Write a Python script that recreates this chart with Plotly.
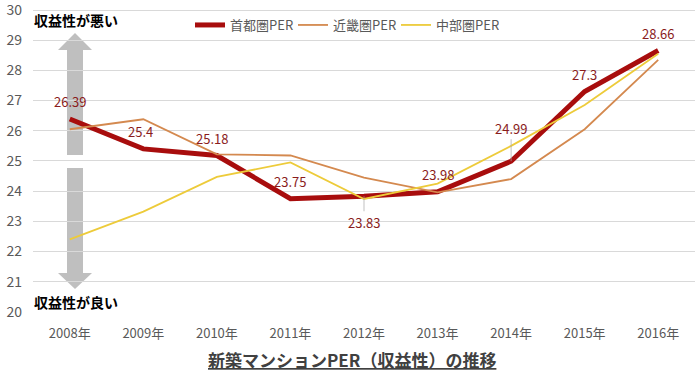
import plotly.graph_objects as go

years = ["2008年", "2009年", "2010年", "2011年", "2012年", "2013年", "2014年", "2015年", "2016年"]
shuto = [26.39, 25.4, 25.18, 23.75, 23.83, 23.98, 24.99, 27.3, 28.66]
kinki = [26.05, 26.38, 25.22, 25.18, 24.45, 23.96, 24.4, 26.05, 28.35]
chubu = [22.4, 23.32, 24.47, 24.95, 23.74, 24.25, 25.5, 26.85, 28.55]
y_ticks = [20, 21, 22, 23, 24, 25, 26, 27, 28, 29, 30]
series_names = ["首都圏PER", "近畿圏PER", "中部圏PER"]
title_text = "新築マンションPER（収益性）の推移"
top_note = "収益性が悪い"
bottom_note = "収益性が良い"

FONT = "Noto Sans CJK JP"
RED = "#A80D0D"
TAN = "#D4894F"
YEL = "#EDCB3A"
LABEL = "#8A1C1C"

W, H = 700, 374
L, R, T, B = 33, 5, 4, 62
pw, ph = W - L - R, H - T - B

def px(x):
    return (x - L) / pw

def py(y):
    return (H - B - y) / ph

fig = go.Figure()
fig.add_trace(go.Scatter(x=years, y=shuto, mode="lines", name=series_names[0],
                         line=dict(color=RED, width=5)))
fig.add_trace(go.Scatter(x=years, y=kinki, mode="lines", name=series_names[1],
                         line=dict(color=TAN, width=1.8)))
fig.add_trace(go.Scatter(x=years, y=chubu, mode="lines", name=series_names[2],
                         line=dict(color=YEL, width=1.8)))

# data labels for 首都圏
xshifts = [0, -3, -5, 0, 0, 0, 0, 0, 0]
for i, (yr, v) in enumerate(zip(years, shuto)):
    txt = f"{v:g}"
    if i == 4:
        fig.add_annotation(x=yr, y=v, text=txt, showarrow=True, arrowhead=0,
                           arrowwidth=0.7, arrowcolor="#A6A6A6", ax=0, ay=26,
                           font=dict(family=FONT, size=13, color=LABEL))
    elif i == 6:
        fig.add_annotation(x=yr, y=v, text=txt, showarrow=True, arrowhead=0,
                           arrowwidth=0.7, arrowcolor="#A6A6A6", ax=0, ay=-33,
                           font=dict(family=FONT, size=13, color=LABEL))
    else:
        fig.add_annotation(x=yr, y=v, text=txt, showarrow=False, yshift=17,
                           xshift=xshifts[i],
                           font=dict(family=FONT, size=13, color=LABEL))

# gray arrows (decoration)
cx = 75
sh = 8
hw = 17
up = (f"M {px(cx)} {py(33)} L {px(cx+hw)} {py(50)} L {px(cx+sh)} {py(50)} "
      f"L {px(cx+sh)} {py(155)} L {px(cx-sh)} {py(155)} L {px(cx-sh)} {py(50)} "
      f"L {px(cx-hw)} {py(50)} Z")
down = (f"M {px(cx)} {py(289)} L {px(cx+hw)} {py(273)} L {px(cx+sh)} {py(273)} "
        f"L {px(cx+sh)} {py(168)} L {px(cx-sh)} {py(168)} L {px(cx-sh)} {py(273)} "
        f"L {px(cx-hw)} {py(273)} Z")
for p in (up, down):
    fig.add_shape(type="path", path=p, xref="paper", yref="paper",
                  fillcolor="#BFBFBF", line=dict(width=0), layer="below")

fig.add_annotation(text=top_note, xref="paper", yref="paper", x=px(32), y=py(20),
                   xanchor="left", yanchor="middle", showarrow=False,
                   font=dict(family=FONT, size=14, color="#000000", weight="bold"))
fig.add_annotation(text=bottom_note, xref="paper", yref="paper", x=px(32), y=py(302),
                   xanchor="left", yanchor="middle", showarrow=False,
                   font=dict(family=FONT, size=14, color="#000000", weight="bold"))
fig.add_annotation(text=f"<u>{title_text}</u>", xref="paper", yref="paper",
                   x=px(352), y=py(359), xanchor="center", yanchor="middle",
                   showarrow=False,
                   font=dict(family=FONT, size=17, color="#404040", weight="bold"))

fig.update_layout(
    width=W, height=H,
    margin=dict(l=L, r=R, t=T, b=B),
    paper_bgcolor="white", plot_bgcolor="white",
    font=dict(family=FONT, size=12, color="#595959"),
    showlegend=True,
    legend=dict(orientation="h", x=px(190), xanchor="left", y=py(25),
                yanchor="middle", font=dict(family=FONT, size=13, color="#595959"),
                bgcolor="rgba(0,0,0,0)", itemwidth=30, tracegroupgap=0,
                entrywidth=58, entrywidthmode="pixels"),
    xaxis=dict(type="category", range=[-0.5, 8.5], showgrid=False, showline=False,
               zeroline=False, ticks="", ticklabelstandoff=12,
               tickfont=dict(size=13, color="#595959")),
    yaxis=dict(range=[19.995, 30.2], tickmode="array", tickvals=y_ticks,
               ticktext=[str(v) for v in y_ticks], showgrid=True,
               gridcolor="#D9D9D9", gridwidth=1, zeroline=False, showline=False,
               ticks="", ticklabelstandoff=10, automargin=False,
               ticklabeloverflow="allow",
               tickfont=dict(size=14, color="#595959")),
)

fig.write_html("out.html", config={"displayModeBar": False},
               post_script="document.body.style.margin='0';document.body.style.padding='0';")
